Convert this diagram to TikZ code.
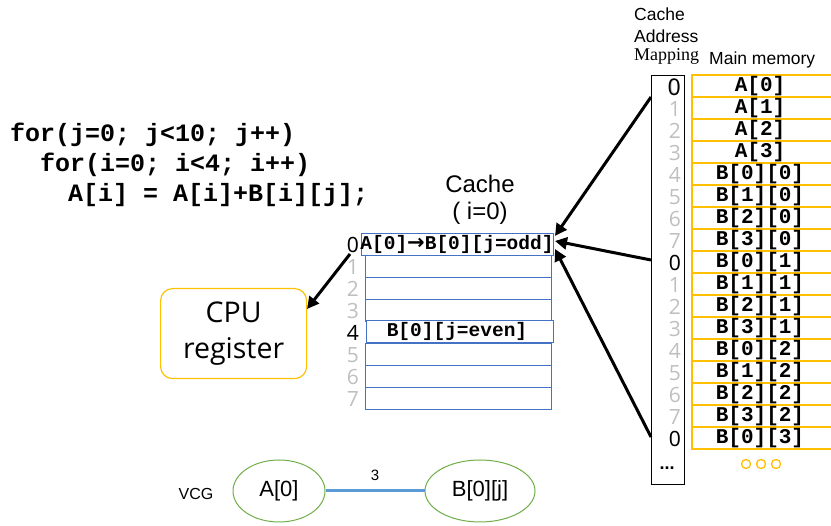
\documentclass[tikz,border=0pt]{standalone}
\usepackage{fontspec}
\setmainfont{Liberation Sans}
\newfontfamily\codefont{Liberation Mono}
\newfontfamily\serifface{Liberation Serif}
\newfontfamily\uifont{Open Sans}
\newfontfamily\arrowfont{DejaVu Sans}
\usetikzlibrary{arrows.meta,calc,shapes.geometric}
\definecolor{memyellow}{HTML}{FFC000}
\definecolor{cacheblue}{HTML}{4472C4}
\definecolor{idxgray}{HTML}{BFBFBF}
\definecolor{vcggreen}{HTML}{70AD47}
\definecolor{edgeblue}{HTML}{5B9BD5}
\tikzset{
  memcell/.style={draw=memyellow, line width=1.3pt},
  memtext/.style={font=\codefont\bfseries\fontsize{21}{21}\selectfont, inner sep=0pt},
  mapnum/.style={font=\uifont\fontsize{21}{21}\selectfont, text=idxgray, inner sep=0pt, anchor=east},
  cachecell/.style={draw=cacheblue, line width=0.9pt},
  cachetext/.style={font=\codefont\bfseries\fontsize{19.5}{19.5}\selectfont, inner sep=0pt},
  codeline/.style={font=\codefont\bfseries\fontsize{25}{25}\selectfont, inner sep=0pt, anchor=base west},
  bigarrow/.style={line width=3pt, -{Triangle[length=12pt,width=12pt]}},
  vcgnode/.style={draw=vcggreen, line width=1pt, ellipse, minimum height=62pt, font=\fontsize{22}{22}\selectfont}
}
\begin{document}
\begin{tikzpicture}[x=1pt,y=-1pt]
\useasboundingbox (0,0) rectangle (831,526);

% loop nest
\node[codeline] (l1) at (10,142) {for(j=0; j<10; j++)};
\node[codeline] (l2) at (40,172) {for(i=0; i<4; i++)};
\node[codeline] (l3) at (68,202) {A[i] = A[i]+B[i][j];};

% headings on the right
\node[anchor=west, inner sep=0pt, font=\fontsize{17.5}{17.5}\selectfont] (hcache) at (634,14) {Cache};
\node[anchor=west, inner sep=0pt, font=\fontsize{17.5}{17.5}\selectfont] (haddr) at (634,36) {Address};
\node[anchor=west, inner sep=0pt, font=\serifface\fontsize{18}{18}\selectfont] (hmap) at (634,56) {Mapping};
\node[anchor=west, inner sep=0pt, font=\fontsize{17.5}{17.5}\selectfont] (hmem) at (709,60) {Main memory};

% main memory cells
\foreach \t [count=\i from 0] in {A[0],A[1],A[2],A[3],B[0][0],B[1][0],B[2][0],B[3][0],B[0][1],B[1][1],B[2][1],B[3][1],B[0][2],B[1][2],B[2][2],B[3][2],B[0][3]} {
  \draw[memcell] (692,{75+22*\i}) rectangle (850,{97+22*\i});
  \node[memtext] (mem\i) at (760,{86+22*\i}) {\t};
}
% continuation marks below the memory
\foreach \k in {0,1,2} {
  \draw[memyellow, line width=1.3pt] ({746+15*\k},464) circle (4.5);
}

% cache address mapping column
\node[draw, line width=1.3pt, minimum width=33pt, minimum height=409pt, inner sep=0pt, anchor=north west] (mapcol) at (651,75) {};
\foreach \n [count=\i from 0] in {0,1,2,3,4,5,6,7,0,1,2,3,4,5,6,7,0} {
  \node[mapnum] (map\i) at (681,{87+22*\i}) {\n};
}
\node[mapnum, text=black, font=\uifont\fontsize{23}{23}\selectfont] at (map0.east) {0};
\node[mapnum, text=black] at (map8.east) {0};
\node[mapnum, text=black] at (map16.east) {0};
\node[font=\bfseries\fontsize{18}{18}\selectfont, inner sep=0pt] (mapdots) at (667,468) {...};

% cache
\node[font=\fontsize{24}{24}\selectfont, inner sep=0pt] (ctitle) at (480,184) {Cache};
\node[font=\fontsize{24}{24}\selectfont, inner sep=0pt] (csub) at (480,213) {( i=0)};
\foreach \i in {1,2,3,5,6,7} {
  \draw[cachecell] (365,{233+22*\i}) rectangle (551,{255+22*\i});
}
\draw[cachecell] (361,233) rectangle (553,255);
\draw[cachecell, fill=white] (366,320) rectangle (553,342);
\node[cachetext] (c0) at (457,244) {A[0]{\arrowfont\bfseries\fontsize{21}{21}\selectfont\raisebox{-0.5pt}{→}}B[0][j=odd]};
\node[cachetext] (c4) at (457,331) {B[0][j=even]};
\foreach \i in {0,...,7} {
  \node[mapnum] (cidx\i) at (359,{245+22*\i}) {\i};
}
\node[mapnum, text=black] at (cidx0.east) {0};
\node[mapnum, text=black] at (cidx4.east) {4};

% CPU register
\node[draw=memyellow, line width=1.2pt, rounded corners=12pt, minimum width=146pt, minimum height=90pt,
      align=center, font=\uifont\fontsize{28.5}{36}\selectfont, anchor=north west] (cpu) at (160,288) {CPU\\register};

% mapping arrows into cache line 0
\coordinate (a0) at (651,97);
\coordinate (a8) at (651,260);
\coordinate (a16) at (651,437);
\coordinate (t0) at (555,236);
\coordinate (t8) at (555,241);
\coordinate (t16) at (555,249);
\draw[bigarrow] (a0) -- (t0);
\draw[bigarrow] (a8) -- (t8);
\draw[bigarrow] (a16) -- (t16);
\coordinate (cs) at (350,254);
\coordinate (ct) at (307,309);
\draw[bigarrow] (cs) -- (ct);

% VCG
\node[font=\fontsize{16}{16}\selectfont, inner sep=0pt] (vcg) at (196,494) {VCG};
\node[vcgnode, minimum width=92pt] (va) at (279,491) {A[0]};
\node[vcgnode, minimum width=110pt] (vb) at (480,491) {B[0][j]};
\draw[edgeblue, line width=3pt] (va) -- node[above=6pt, text=black, font=\fontsize{15}{15}\selectfont] {3} (vb);
\end{tikzpicture}
\end{document}
